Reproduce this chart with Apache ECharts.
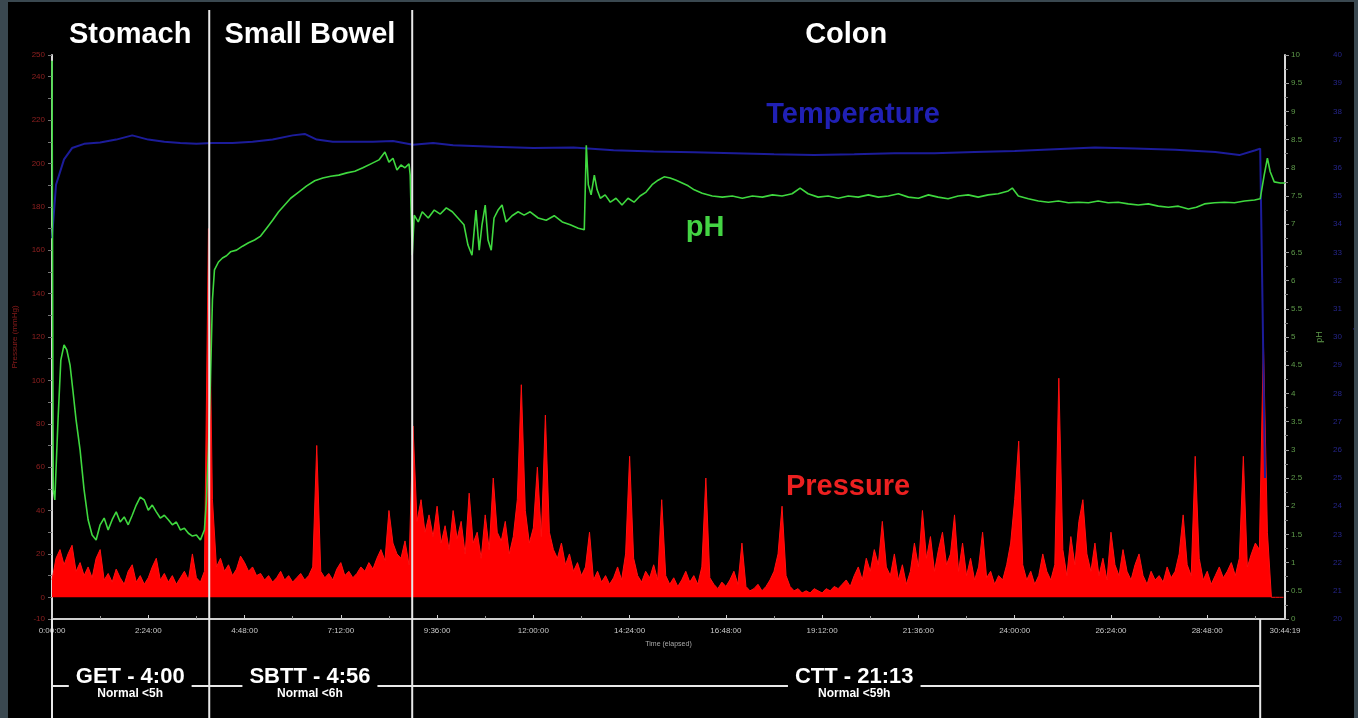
<!DOCTYPE html>
<html>
<head>
<meta charset="utf-8">
<script src="https://cdn.jsdelivr.net/npm/echarts@6/dist/echarts.min.js"></script>
<style>
  html, body { margin: 0; padding: 0; background: #3a4850; width: 1358px; height: 718px; overflow: hidden; }
  #chart { position: absolute; left: 8px; top: 2px; width: 1346px; height: 716px; background: #000; }
</style>
</head>
<body>
<div id="chart"></div>
<script>
// ---------------- DATA ----------------
// Time axis (hours elapsed); 30:44:19 total recording
const timeMaxHours = 30 + 44 / 60 + 19 / 3600;
const timeTickHours = 2.4; // 2:24:00

// Phase boundaries (hours) and labels
const phaseBoundaryHours = [0, 3.92, 8.98, 30.12];
const phaseNames = ['Stomach', 'Small Bowel', 'Colon'];
const phaseLabelHours = [1.95, 6.43, 19.8];
const transitNames = ['GET - 4:00', 'SBTT - 4:56', 'CTT - 21:13'];
const transitNormals = ['Normal <5h', 'Normal <6h', 'Normal <59h'];
const transitLabelHours = [1.95, 6.43, 20.0];

// pH trace
const phHours = [0, 0.03, 0.07, 0.15, 0.22, 0.30, 0.37, 0.45, 0.52, 0.60, 0.70, 0.80, 0.90, 1.00, 1.10, 1.20, 1.30, 1.40, 1.50, 1.60, 1.70, 1.80, 1.90, 2.00, 2.10, 2.20, 2.30, 2.40, 2.50, 2.60, 2.70, 2.80, 2.90, 3.00, 3.10, 3.20, 3.30, 3.40, 3.50, 3.60, 3.70, 3.80, 3.85, 3.90, 3.95, 4.00, 4.05, 4.15, 4.25, 4.35, 4.45, 4.60, 4.75, 4.90, 5.05, 5.20, 5.35, 5.50, 5.65, 5.80, 5.95, 6.15, 6.35, 6.55, 6.75, 6.95, 7.15, 7.35, 7.55, 7.75, 7.95, 8.15, 8.30, 8.40, 8.50, 8.60, 8.70, 8.80, 8.90, 8.93, 8.98, 9.03, 9.13, 9.23, 9.38, 9.53, 9.68, 9.83, 9.98, 10.12, 10.27, 10.37, 10.47, 10.57, 10.65, 10.72, 10.80, 10.87, 10.95, 11.02, 11.12, 11.22, 11.32, 11.47, 11.62, 11.77, 11.92, 12.12, 12.32, 12.52, 12.72, 12.92, 13.12, 13.27, 13.32, 13.37, 13.44, 13.52, 13.59, 13.67, 13.79, 13.92, 14.06, 14.21, 14.36, 14.51, 14.66, 14.81, 14.96, 15.11, 15.26, 15.41, 15.56, 15.71, 15.86, 16.01, 16.21, 16.46, 16.71, 16.96, 17.21, 17.46, 17.71, 17.96, 18.20, 18.45, 18.65, 18.85, 19.10, 19.35, 19.60, 19.85, 20.10, 20.35, 20.60, 20.85, 21.10, 21.35, 21.60, 21.85, 22.09, 22.34, 22.59, 22.84, 23.09, 23.34, 23.59, 23.84, 23.94, 24.09, 24.34, 24.59, 24.84, 25.09, 25.34, 25.59, 25.84, 26.08, 26.33, 26.58, 26.83, 27.08, 27.33, 27.58, 27.83, 28.08, 28.33, 28.53, 28.73, 28.98, 29.23, 29.48, 29.73, 29.98, 30.12, 30.22, 30.30, 30.37, 30.47, 30.62, 30.74];
const phValues = [9.9, 2.3, 2.11, 3.53, 4.59, 4.86, 4.77, 4.50, 4.06, 3.53, 3.00, 2.29, 1.76, 1.49, 1.40, 1.67, 1.79, 1.58, 1.76, 1.90, 1.72, 1.81, 1.67, 1.84, 2.02, 2.16, 2.11, 1.93, 2.02, 1.90, 1.79, 1.84, 1.76, 1.67, 1.72, 1.58, 1.61, 1.52, 1.47, 1.49, 1.40, 1.58, 2.11, 3.00, 4.24, 5.66, 6.19, 6.33, 6.40, 6.44, 6.51, 6.54, 6.61, 6.67, 6.72, 6.79, 6.93, 7.07, 7.22, 7.34, 7.46, 7.57, 7.68, 7.77, 7.82, 7.85, 7.87, 7.91, 7.94, 8.00, 8.07, 8.14, 8.28, 8.10, 8.17, 7.96, 8.05, 8.00, 8.07, 7.87, 6.45, 7.16, 7.04, 7.22, 7.11, 7.25, 7.18, 7.29, 7.22, 7.11, 6.99, 6.63, 6.45, 7.25, 6.54, 6.99, 7.34, 6.72, 6.54, 7.11, 7.25, 7.34, 7.04, 7.15, 7.22, 7.16, 7.22, 7.11, 7.07, 7.15, 7.04, 6.99, 6.93, 6.90, 8.40, 7.70, 7.52, 7.87, 7.61, 7.46, 7.52, 7.39, 7.46, 7.34, 7.46, 7.39, 7.50, 7.57, 7.70, 7.78, 7.84, 7.82, 7.78, 7.73, 7.68, 7.61, 7.55, 7.50, 7.48, 7.50, 7.46, 7.50, 7.48, 7.52, 7.50, 7.54, 7.64, 7.54, 7.48, 7.50, 7.46, 7.50, 7.48, 7.52, 7.48, 7.50, 7.54, 7.48, 7.46, 7.52, 7.48, 7.45, 7.50, 7.52, 7.48, 7.52, 7.54, 7.59, 7.64, 7.50, 7.45, 7.41, 7.39, 7.41, 7.38, 7.39, 7.38, 7.41, 7.38, 7.39, 7.36, 7.34, 7.36, 7.32, 7.30, 7.32, 7.27, 7.30, 7.36, 7.38, 7.39, 7.38, 7.41, 7.43, 7.45, 7.87, 8.17, 7.93, 7.75, 7.73, 7.73];

// Temperature trace (°C)
const tempHours = [0, 0.1, 0.3, 0.5, 0.8, 1.2, 1.6, 2.0, 2.4, 2.8, 3.2, 3.6, 4.0, 4.5, 5.0, 5.5, 6.0, 6.3, 6.6, 7.0, 7.5, 8.0, 8.5, 9.0, 9.5, 10, 11, 12, 13, 14, 15, 16, 17, 18, 19, 20, 21, 22, 23, 24, 25, 26, 27, 28, 29, 29.6, 30.0, 30.12, 30.18, 30.24];
const tempValues = [33.5, 35.4, 36.3, 36.7, 36.85, 36.9, 37.0, 37.15, 37.0, 36.92, 36.88, 36.85, 36.88, 36.88, 36.92, 37.0, 37.15, 37.2, 37.0, 36.92, 36.92, 36.92, 36.95, 36.82, 36.88, 36.8, 36.75, 36.7, 36.72, 36.62, 36.58, 36.55, 36.52, 36.48, 36.45, 36.48, 36.52, 36.52, 36.56, 36.6, 36.66, 36.72, 36.68, 36.64, 36.56, 36.45, 36.62, 36.68, 31.0, 25.0];

// Pressure trace (mmHg), sampled every 0.1 h from 0:00:00
const pressureStepHours = 0.1;
const pressureValues = [
  8,18,22,15,20,24,12,16,10,14, 9,18,22,8,11,7,13,9,6,12,
  15,7,10,6,9,14,18,8,11,7, 10,6,9,12,8,20,9,7,12,170,
  45,14,18,12,15,10,13,19,16,12, 14,10,11,8,10,7,9,12,8,10,
  7,9,11,8,10,14,70,12,9,11, 8,13,16,10,12,9,11,14,12,16,
  13,18,22,17,40,25,20,18,26,15, 79,35,45,30,38,28,42,25,33,22,
  40,27,35,20,48,25,30,18,38,22, 55,30,26,35,20,28,45,98,40,25,
  32,60,28,84,30,22,18,25,15,20, 12,16,10,14,30,8,12,7,10,6,
  9,14,8,20,65,18,10,7,12,9, 15,8,45,10,6,9,5,8,12,7,
  10,6,14,55,9,6,4,7,5,8, 12,6,25,5,3,4,6,3,5,8,
  12,20,42,10,5,3,4,2,3,2, 4,3,2,4,3,5,4,6,8,5,
  10,14,8,18,12,22,15,35,14,10, 20,8,15,6,12,25,14,40,18,28,
  12,22,30,15,20,38,12,25,10,18, 8,14,30,9,12,6,10,8,15,25,
  45,72,15,8,12,6,10,20,12,8, 15,101,22,10,28,15,35,45,20,12,
  25,10,18,8,30,15,10,22,12,8, 15,20,10,6,12,8,10,7,14,9,
  12,20,38,15,10,65,18,8,12,6, 10,14,9,12,16,10,18,65,14,20,
  25,22,118,30,0,0,0,0
];

// ---------------- CHART ----------------
const FONT = '"Liberation Sans", Arial, sans-serif';
const phData = phHours.map((h, i) => [h, phValues[i]]);
const tempData = tempHours.map((h, i) => [h, tempValues[i]]);
const pressureData = pressureValues.map((v, i) => [+(i * pressureStepHours).toFixed(2), v]);

function fmtTime(h) {
  const s = Math.round(h * 3600);
  const hh = Math.floor(s / 3600);
  const mm = Math.floor((s % 3600) / 60);
  const ss = s % 60;
  return hh + ':' + String(mm).padStart(2, '0') + ':' + String(ss).padStart(2, '0');
}

const chart = echarts.init(document.getElementById('chart'), null, { renderer: 'canvas' });

const option = {
  backgroundColor: '#000',
  animation: false,
  grid: { left: 44, right: 69, top: 53, bottom: 99, containLabel: false, outerBoundsMode: 'none' },
  xAxis: {
    type: 'value', min: 0, max: timeMaxHours, interval: timeTickHours,
    name: 'Time (elapsed)', nameLocation: 'middle', nameGap: 22,
    nameTextStyle: { color: '#aaa', fontSize: 7, fontFamily: FONT },
    axisLine: { show: true, onZero: false, lineStyle: { color: '#cfcfcf', width: 2 } },
    axisTick: { show: true, inside: true, length: 4, lineStyle: { color: '#cfcfcf' } },
    minorTick: { show: true, splitNumber: 2, length: 3, lineStyle: { color: '#999' } },
    splitLine: { show: false },
    axisLabel: { color: '#c8c8c8', fontSize: 8, fontFamily: FONT, margin: 8, formatter: fmtTime, showMaxLabel: true }
  },
  yAxis: [
    {
      type: 'value', position: 'left', min: -10, max: 250, interval: 10,
      name: 'Pressure (mmHg)', nameLocation: 'middle', nameGap: 33,
      nameTextStyle: { color: '#8a1c1c', fontSize: 8, fontFamily: FONT },
      axisLine: { show: true, onZero: false, lineStyle: { color: '#d8d8d8', width: 2 } },
      axisTick: { show: true, length: 4, lineStyle: { color: '#777' } },
      splitLine: { show: false },
      axisLabel: {
        color: '#8e2020', fontSize: 8, fontFamily: FONT, margin: 7,
        formatter: v => (v % 20 === 0 || v === -10 || v === 250) ? String(v) : ''
      }
    },
    {
      type: 'value', position: 'right', min: 0, max: 10, interval: 0.5,
      name: 'pH', nameLocation: 'middle', nameGap: 30,
      nameTextStyle: { color: '#5e9a4a', fontSize: 9, fontFamily: FONT },
      axisLine: { show: true, onZero: false, lineStyle: { color: '#d8d8d8', width: 2 } },
      axisTick: { show: true, length: 4, lineStyle: { color: '#9a9a9a' } },
      minorTick: { show: true, splitNumber: 2, length: 3, lineStyle: { color: '#777' } },
      splitLine: { show: false },
      axisLabel: { color: '#5e9a4a', fontSize: 8, fontFamily: FONT, margin: 6 }
    },
    {
      type: 'value', position: 'right', offset: 40, min: 20, max: 40, interval: 1,
      name: 'Temp (°C)', nameLocation: 'middle', nameGap: 22,
      nameTextStyle: { color: '#2a2aa0', fontSize: 8, fontFamily: FONT },
      axisLine: { show: false, onZero: false },
      axisTick: { show: false },
      splitLine: { show: false },
      axisLabel: { color: '#25258a', fontSize: 8, fontFamily: FONT, margin: 8 }
    }
  ],
  series: [
    {
      name: 'Pressure', type: 'line', yAxisIndex: 0, data: pressureData,
      showSymbol: false, symbol: 'none',
      lineStyle: { color: '#ff1010', width: 1 },
      areaStyle: { color: '#ff0000', opacity: 1 },
      z: 2
    },
    {
      name: 'Temperature', type: 'line', yAxisIndex: 2, data: tempData,
      showSymbol: false, symbol: 'none',
      lineStyle: { color: '#1c1c9a', width: 2 },
      z: 3
    },
    {
      name: 'pH', type: 'line', yAxisIndex: 1, data: phData,
      showSymbol: false, symbol: 'none',
      lineStyle: { color: '#3fd83f', width: 1.6 },
      z: 4
    }
  ]
};

chart.setOption(option);

// Annotations positioned through the chart's own scales
const H = 716;
const xp = h => chart.convertToPixel({ xAxisIndex: 0 }, h);
const axisBottomY = chart.convertToPixel({ yAxisIndex: 0 }, -10);
const lineColor = '#e8e8e8';
const bracketY = 684;
const g = [];

phaseBoundaryHours.forEach((h, i) => {
  const x = xp(h);
  const inner = i > 0 && i < phaseBoundaryHours.length - 1;
  g.push({ type: 'line', z: 50, shape: { x1: x, y1: inner ? 8 : axisBottomY, x2: x, y2: H }, style: { stroke: lineColor, lineWidth: 2 } });
});
g.push({ type: 'line', z: 50, shape: { x1: xp(phaseBoundaryHours[0]), y1: bracketY, x2: xp(phaseBoundaryHours[phaseBoundaryHours.length - 1]), y2: bracketY }, style: { stroke: lineColor, lineWidth: 2 } });

phaseNames.forEach((n, i) => {
  g.push({ type: 'text', z: 60, x: xp(phaseLabelHours[i]), y: 33,
    style: { text: n, fill: '#fff', font: 'bold 29px ' + FONT, align: 'center', verticalAlign: 'middle', textAlign: 'center', textVerticalAlign: 'middle' } });
});
transitNames.forEach((n, i) => {
  const x = xp(transitLabelHours[i]);
  g.push({ type: 'text', z: 60, x: x, y: 675,
    style: { text: n, fill: '#fff', font: 'bold 22px ' + FONT, align: 'center', verticalAlign: 'middle', textAlign: 'center', textVerticalAlign: 'middle', backgroundColor: '#000', padding: [2, 7, 6, 7] } });
  g.push({ type: 'text', z: 61, x: x, y: 692,
    style: { text: transitNormals[i], fill: '#fff', font: 'bold 12px ' + FONT, align: 'center', verticalAlign: 'middle', textAlign: 'center', textVerticalAlign: 'middle', backgroundColor: '#000', padding: [0, 4] } });
});

g.push({ type: 'text', z: 60, x: 845, y: 113, style: { text: 'Temperature', fill: '#2020b4', font: 'bold 29px ' + FONT, align: 'center', verticalAlign: 'middle', textAlign: 'center', textVerticalAlign: 'middle' } });
g.push({ type: 'text', z: 60, x: 697, y: 226, style: { text: 'pH', fill: '#44d444', font: 'bold 29px ' + FONT, align: 'center', verticalAlign: 'middle', textAlign: 'center', textVerticalAlign: 'middle' } });
g.push({ type: 'text', z: 60, x: 840, y: 485, style: { text: 'Pressure', fill: '#ec2020', font: 'bold 29px ' + FONT, align: 'center', verticalAlign: 'middle', textAlign: 'center', textVerticalAlign: 'middle' } });

chart.setOption({ graphic: g });
</script>
</body>
</html>
